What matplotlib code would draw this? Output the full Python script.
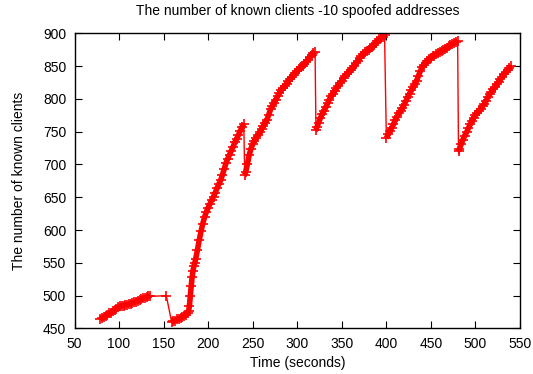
import matplotlib
matplotlib.use("Agg")
import matplotlib.pyplot as plt

title = "The number of known clients -10 spoofed addresses"
xlabel = "Time (seconds)"
ylabel = "The number of known clients"
xticks = [50, 100, 150, 200, 250, 300, 350, 400, 450, 500, 550]
yticks = [450, 500, 550, 600, 650, 700, 750, 800, 850, 900]

time_s = [
    79, 81, 83, 85, 87, 89, 91, 93, 95, 97, 99, 101, 103, 105, 107, 109, 111, 113, 115,
    117, 119, 121, 123, 125, 127, 129, 131, 133, 135,
    153,
    159, 161, 163, 165, 167, 169, 171, 173, 175, 177,
    178, 179, 180, 181, 182, 183, 184, 185,
    186, 188, 190, 192, 194, 196, 198, 200, 202, 204, 206, 208, 210, 212, 214, 216, 218,
    220, 222, 224, 226, 228, 230, 232, 234, 236, 238, 240,
    241,
    242, 244, 246, 248, 250, 252, 254, 256, 258, 260, 262, 264, 266, 268, 270, 272, 274,
    276, 278, 280, 282, 284, 286, 288, 290, 292, 294, 296, 298, 300, 302, 304, 306, 308,
    310, 312, 314, 316, 318, 320,
    321,
    322, 324, 326, 328, 330, 332, 334, 336, 338, 340, 342, 344, 346, 348, 350, 352, 354,
    356, 358, 360, 362, 364, 366, 368, 370, 372, 374, 376, 378, 380, 382, 384, 386, 388,
    390, 392, 394, 396, 398,
    400,
    402, 404, 406, 408, 410, 412, 414, 416, 418, 420, 422, 424, 426, 428, 430, 432, 434,
    436, 438, 440, 442, 444, 446, 448, 450, 452, 454, 456, 458, 460, 462, 464, 466, 468,
    470, 472, 474, 476, 478, 480,
    481,
    482, 484, 486, 488, 490, 492, 494, 496, 498, 500, 502, 504, 506, 508, 510, 512, 514,
    516, 518, 520, 522, 524, 526, 528, 530, 532, 534, 536, 538, 540,
]
known_clients = [
    465, 466, 467, 469, 471, 473, 474, 476, 478, 480, 482, 484, 485, 485, 486, 486, 487, 488, 489,
    490, 491, 492, 493, 495, 496, 497, 498, 499, 499,
    500,
    460, 461, 462, 464, 465, 466, 468, 469, 471, 473,
    476, 485, 500, 515, 528, 538, 545, 550,
    556, 570, 585, 598, 610, 620, 628, 634, 640, 646, 651, 657, 664, 670, 676, 684, 693,
    702, 709, 715, 721, 727, 734, 739, 745, 751, 757, 762,
    684,
    688, 700, 714, 724, 731, 736, 741, 745, 749, 754, 759, 764, 768, 776, 784, 789, 794,
    799, 804, 809, 813, 817, 820, 823, 827, 831, 834, 837, 840, 843, 846, 848, 850, 853,
    856, 860, 864, 867, 870, 872,
    752,
    757, 764, 771, 777, 782, 787, 793, 799, 804, 808, 812, 816, 820, 824, 828, 832, 835,
    838, 841, 844, 847, 850, 854, 858, 862, 866, 869, 871, 873, 875, 877, 879, 882, 885,
    888, 891, 893, 895, 897,
    740,
    746, 751, 756, 761, 768, 773, 778, 782, 786, 791, 797, 803, 808, 813, 818, 822, 828,
    835, 842, 848, 852, 855, 858, 861, 863, 865, 866, 868, 870, 872, 873, 875, 876, 878,
    880, 882, 884, 885, 887, 889,
    720,
    724, 731, 738, 744, 749, 755, 761, 766, 771, 775, 778, 782, 785, 789, 792, 797, 803,
    807, 811, 815, 818, 822, 826, 830, 834, 838, 841, 844, 847, 850,
]

# split the series into continuous runs (break at big drops or time gaps)
runs = []
start = 0
for i in range(1, len(time_s)):
    if known_clients[i] - known_clients[i - 1] < -30 or time_s[i] - time_s[i - 1] > 5:
        runs.append((start, i))
        start = i
runs.append((start, len(time_s)))

plt.rcParams['font.family'] = ['Liberation Sans', 'DejaVu Sans']
fig = plt.figure(figsize=(5.33, 3.74), dpi=100)
ax = fig.add_axes([0.1398, 0.1217, 0.8358, 0.7893])
red = '#ff0000'
ax.plot(time_s, known_clients, color=red, linewidth=1.0, marker='+',
        markersize=7, markeredgewidth=1.2)
for a, b in runs:
    if b - a > 1:
        ax.plot(time_s[a:b], known_clients[a:b], color=red, linewidth=4.0,
                solid_capstyle='butt', solid_joinstyle='round')
ax.set_xlim(50, 550)
ax.set_ylim(450, 900)
ax.set_xticks(xticks)
ax.set_yticks(yticks)
ax.tick_params(direction='in', length=5, width=0.8, top=True, right=True,
               labelsize=10, pad=6, colors='black')
for s in ax.spines.values():
    s.set_linewidth(1.0)
ax.set_title(title, fontsize=10, pad=13)
ax.set_xlabel(xlabel, fontsize=10, labelpad=4)
ax.set_ylabel(ylabel, fontsize=10, labelpad=12)
fig.savefig("out.png", dpi=100)
